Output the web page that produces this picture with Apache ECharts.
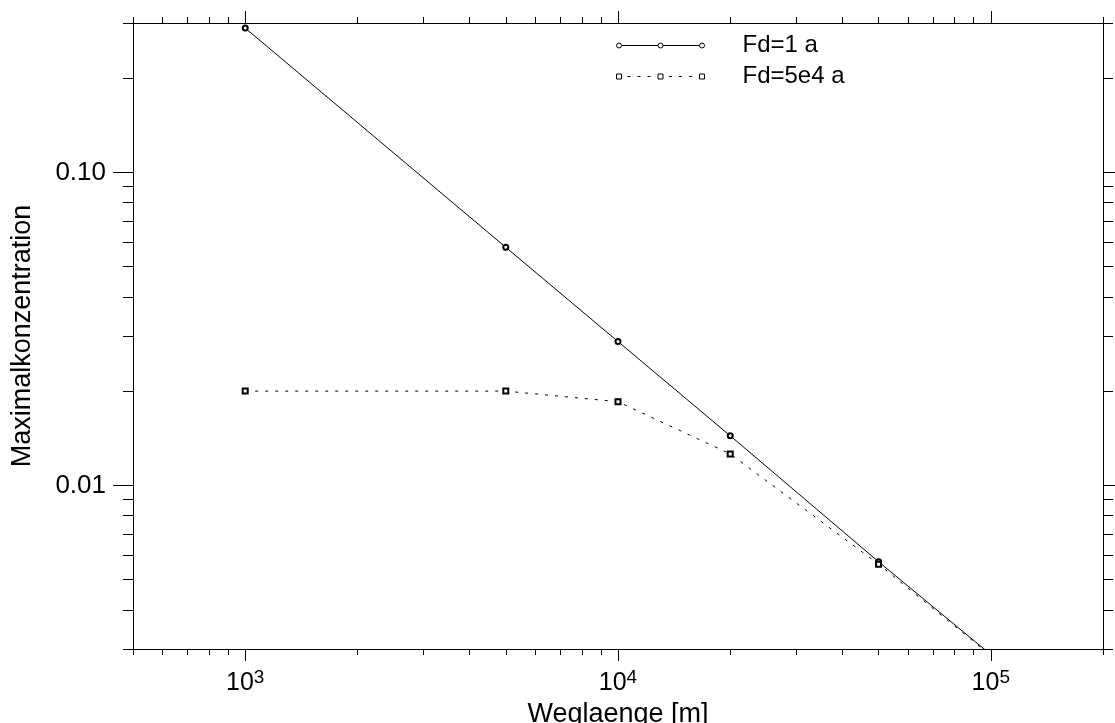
<!DOCTYPE html>
<html>
<head>
<meta charset="utf-8">
<title>Maximalkonzentration</title>
<script src="https://cdn.jsdelivr.net/npm/echarts@6/dist/echarts.min.js"></script>
<style>
  html, body { margin: 0; padding: 0; background: #fff; }
  #chart { width: 1115px; height: 723px; }
</style>
</head>
<body>
<div id="chart"></div>
<script>
// Weglaenge [m]
const distances = [1000, 5000, 10000, 20000, 50000, 100000];
// Maximalkonzentration, Fd=1 a
const concFd1 = [0.289, 0.0576, 0.0288, 0.0144, 0.0057, 0.00288];
// Maximalkonzentration, Fd=5e4 a
const concFd5e4 = [0.0200, 0.0200, 0.0185, 0.0126, 0.0056, 0.00286];

const seriesNames = ['Fd=1 a', 'Fd=5e4 a'];

// Achsenbereiche
const xRange = [500, 200000];
const yRange = [0.003, 0.3];

// Ticks
const xMajorTicks = [1000, 10000, 100000];
const xMinorTicks = [500, 600, 700, 800, 900,
  2000, 3000, 4000, 5000, 6000, 7000, 8000, 9000,
  20000, 30000, 40000, 50000, 60000, 70000, 80000, 90000, 200000];
const yMajorTicks = [0.01, 0.1];
const yMajorLabels = ['0.01', '0.10'];
const yMinorTicks = [0.003, 0.004, 0.005, 0.006, 0.007, 0.008, 0.009,
  0.02, 0.03, 0.04, 0.05, 0.06, 0.07, 0.08, 0.09, 0.2, 0.3];

const FONT = "'Liberation Sans', Arial, sans-serif";
const lg = v => Math.log10(v);

// Legendensymbol: Linie mit drei Markern
function legendIcon(marker, dashed) {
  const r = 2.5, cy = 2.5;
  const centers = [2.5, 44, 85.5];
  let p = '';
  for (let i = 0; i < 2; i++) {
    const x0 = centers[i] + r, x1 = centers[i + 1] - r;
    if (dashed) {
      for (let x = x0 + 6; x + 3 <= x1; x += 10) p += 'M' + x + ',' + cy + 'L' + (x + 3) + ',' + cy;
    } else {
      p += 'M' + x0 + ',' + cy + 'L' + x1 + ',' + cy;
    }
  }
  centers.forEach(cx => {
    if (marker === 'circle') {
      p += 'M' + (cx - r) + ',' + cy + 'a' + r + ',' + r + ' 0 1,0 ' + (2 * r) + ',0a' + r + ',' + r + ' 0 1,0 ' + (-2 * r) + ',0';
    } else {
      p += 'M' + (cx - r) + ',' + (cy - r) + 'h' + (2 * r) + 'v' + (2 * r) + 'h' + (-2 * r) + 'Z';
    }
  });
  return 'path://' + p;
}

// Achsen nur fuer Ticks/Beschriftung (linear im log10-Raum)
function decoAxis(range, ticks, tickLen, extra) {
  return Object.assign({
    type: 'value',
    min: lg(range[0]),
    max: lg(range[1]),
    splitLine: { show: false },
    axisLine: { show: false },
    axisLabel: { show: false },
    axisTick: {
      show: true,
      length: tickLen,
      customValues: ticks.map(lg),
      lineStyle: { color: '#000', width: 1 }
    }
  }, extra);
}

const axisLineStyle = { show: true, lineStyle: { color: '#000', width: 1 } };

const chart = echarts.init(document.getElementById('chart'));

const option = {
  animation: false,
  grid: { left: 133, right: 12, top: 23, bottom: 74, outerBoundsMode: 'none' },
  legend: {
    orient: 'vertical',
    left: 616,
    top: 33,
    padding: 0,
    itemGap: 6,
    itemWidth: 88,
    itemHeight: 8,
    symbolKeepAspect: true,
    selectedMode: false,
    itemStyle: { color: 'transparent', borderColor: '#000', borderWidth: 1 },
    textStyle: { fontFamily: FONT, fontSize: 24, lineHeight: 25, color: '#000', padding: [0, 0, 0, 33] },
    data: [
      { name: seriesNames[0], icon: legendIcon('circle', false) },
      { name: seriesNames[1], icon: legendIcon('rect', true) }
    ]
  },
  xAxis: [
    { type: 'log', logBase: 10, min: xRange[0], max: xRange[1], show: false },
    decoAxis(xRange, xMajorTicks, 12, {
      position: 'bottom',
      axisLine: axisLineStyle,
      name: 'Weglaenge [m]',
      nameLocation: 'middle',
      nameGap: 50,
      nameTextStyle: { fontFamily: FONT, fontSize: 27, color: '#000' },
      axisLabel: {
        show: true,
        customValues: xMajorTicks.map(lg),
        margin: 19,
        formatter: v => '{b|10}{s|' + Math.round(v) + '}',
        rich: {
          b: { fontFamily: FONT, fontSize: 25, lineHeight: 28, color: '#000', verticalAlign: 'bottom' },
          s: { fontFamily: FONT, fontSize: 19, lineHeight: 20, color: '#000', verticalAlign: 'top' }
        }
      }
    }),
    decoAxis(xRange, xMinorTicks, 6, { position: 'bottom' }),
    decoAxis(xRange, xMajorTicks, 12, { position: 'top', axisLine: axisLineStyle }),
    decoAxis(xRange, xMinorTicks, 6, { position: 'top' })
  ],
  yAxis: [
    { type: 'log', logBase: 10, min: yRange[0], max: yRange[1], show: false },
    decoAxis(yRange, yMajorTicks, 20, {
      position: 'left',
      axisLine: axisLineStyle,
      name: 'Maximalkonzentration',
      nameLocation: 'middle',
      nameGap: 97,
      nameTextStyle: { fontFamily: FONT, fontSize: 27, color: '#000' },
      axisLabel: {
        show: true,
        customValues: yMajorTicks.map(lg),
        margin: 27,
        fontFamily: FONT,
        fontSize: 26,
        color: '#000',
        formatter: v => yMajorLabels[yMajorTicks.findIndex(t => Math.abs(lg(t) - v) < 1e-6)]
      }
    }),
    decoAxis(yRange, yMinorTicks, 10, { position: 'left' }),
    decoAxis(yRange, yMajorTicks, 20, { position: 'right', axisLine: axisLineStyle }),
    decoAxis(yRange, yMinorTicks, 10, { position: 'right' })
  ],
  series: [
    {
      name: seriesNames[0],
      type: 'line',
      xAxisIndex: 0,
      yAxisIndex: 0,
      data: distances.map((d, i) => [d, concFd1[i]]),
      symbol: 'emptyCircle',
      symbolSize: 5,
      clip: true,
      lineStyle: { color: '#000', width: 1 },
      itemStyle: { color: '#000', borderWidth: 1 }
    },
    {
      name: seriesNames[1],
      type: 'line',
      xAxisIndex: 0,
      yAxisIndex: 0,
      data: distances.map((d, i) => [d, concFd5e4[i]]),
      symbol: 'emptyRect',
      symbolSize: 5,
      clip: true,
      lineStyle: { color: '#000', width: 1, type: [3, 7] },
      itemStyle: { color: '#000', borderWidth: 1 }
    }
  ]
};

chart.setOption(option);
</script>
</body>
</html>
